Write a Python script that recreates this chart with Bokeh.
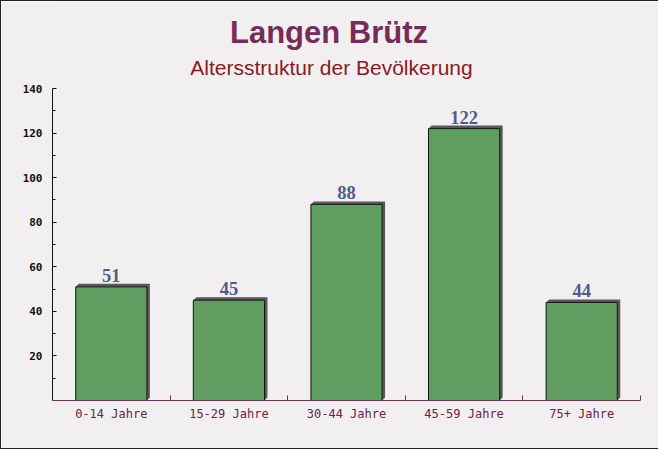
import numpy as np
from bokeh.plotting import figure
from bokeh.models import (ColumnDataSource, FixedTicker, Label, LabelSet, Range1d)
from bokeh.embed import file_html
from bokeh.resources import INLINE

# ---- data ----
categories = ["0-14 Jahre", "15-29 Jahre", "30-44 Jahre", "45-59 Jahre", "75+ Jahre"]
values = [51, 45, 88, 122, 44]
y_ticks = [20, 40, 60, 80, 100, 120, 140]
y_minor = [10, 30, 50, 70, 90, 110, 130]
title_text = "Langen Brütz"
subtitle_text = "Altersstruktur der Bevölkerung"

# ---- layout constants ----
W, H = 658, 449
PLOT_W, PLOT_H = 588, 312        # height of the 0..Y_MAX area
LEFT, TOP = 51, 87
Y_MAX = 140
BAR_W = 0.605
BG = "#f2eff0"

n = len(categories)
centers = np.arange(n) + 0.5
bounds = list(range(1, n + 1))

# frame extends up to the top edge so that title labels are not clipped
y_end = Y_MAX * (PLOT_H + TOP) / PLOT_H
p = figure(width=W, height=H, output_backend="svg", toolbar_location=None,
           x_range=Range1d(0, n), y_range=Range1d(0, y_end),
           min_border_left=LEFT, min_border_top=0,
           min_border_right=W - LEFT - PLOT_W,
           min_border_bottom=H - TOP - PLOT_H,
           background_fill_color=BG, border_fill_color=BG)
p.outline_line_color = None
p.xgrid.visible = False
p.ygrid.visible = False
p.styles = {"border-left": "1px solid #222222", "border-top": "1px solid #222222",
            "border-bottom": "1px solid #222222", "box-sizing": "border-box"}

# 3D-like shadow behind each bar (offset in pixels -> data units)
px_x = n / PLOT_W
px_y = Y_MAX / PLOT_H
dx, dy = 3 * px_x, 3 * px_y
xs, ys = [], []
for c, v in zip(centers, values):
    x0, x1 = c - BAR_W / 2, c + BAR_W / 2
    xs.append([x0, x0 + dx, x1 + dx, x1 + dx, x1, x1])
    ys.append([v, v + dy, v + dy, dy, 0, v])
p.patches(xs, ys, fill_color="#585858", fill_alpha=1.0, line_color=None)

src = ColumnDataSource(dict(x=centers, top=values, label=[str(v) for v in values]))
p.vbar(x="x", top="top", bottom=0, width=BAR_W, source=src,
       fill_color="#609d60", fill_alpha=1.0, line_color="#111111", line_width=1)

labels = LabelSet(x="x", y="top", text="label", source=src, y_offset=5,
                  text_align="center", text_baseline="alphabetic",
                  text_font="Liberation Serif", text_font_style="bold",
                  text_font_size="18.5px", text_color="#525a8a")
p.add_layout(labels)

# axes
xa = p.xaxis[0]
xa.ticker = FixedTicker(ticks=list(centers), minor_ticks=bounds)
xa.major_label_overrides = {float(c): cat for c, cat in zip(centers, categories)}
xa.major_tick_in = 0
xa.major_tick_out = 0
xa.minor_tick_in = 5
xa.minor_tick_out = 0
xa.axis_line_color = "#6e3352"
xa.minor_tick_line_color = "#6e3352"
xa.major_label_text_font = "DejaVu Sans Mono"
xa.major_label_text_font_size = "12px"
xa.major_label_text_color = "#6b2448"
xa.major_label_standoff = 6

ya = p.yaxis[0]
ya.bounds = (0, Y_MAX)
ya.ticker = FixedTicker(ticks=y_ticks, minor_ticks=y_minor)
ya.major_tick_in = 4
ya.major_tick_out = 0
ya.minor_tick_in = 3
ya.minor_tick_out = 0
ya.axis_line_color = "#111111"
ya.major_tick_line_color = "#111111"
ya.minor_tick_line_color = "#111111"
ya.major_label_text_font = "DejaVu Sans Mono"
ya.major_label_text_font_style = "bold"
ya.major_label_text_font_size = "11px"
ya.major_label_text_color = "#111111"
ya.major_label_standoff = 10

# titles (screen units relative to the frame's bottom-left corner)
frame_bottom = TOP + PLOT_H
p.add_layout(Label(x=327.5 - LEFT, y=frame_bottom - 31, x_units="screen", y_units="screen",
                   text=title_text, text_align="center", text_baseline="alphabetic",
                   text_font="Liberation Sans", text_font_style="bold",
                   text_font_size="31px", text_color="#772b58"))
p.add_layout(Label(x=330 - LEFT, y=frame_bottom - 66, x_units="screen", y_units="screen",
                   text=subtitle_text, text_align="center", text_baseline="alphabetic",
                   text_font="Liberation Sans", text_font_size="21px",
                   text_color="#8a1a1e"))

open("out.html", "w").write(file_html(p, INLINE))
